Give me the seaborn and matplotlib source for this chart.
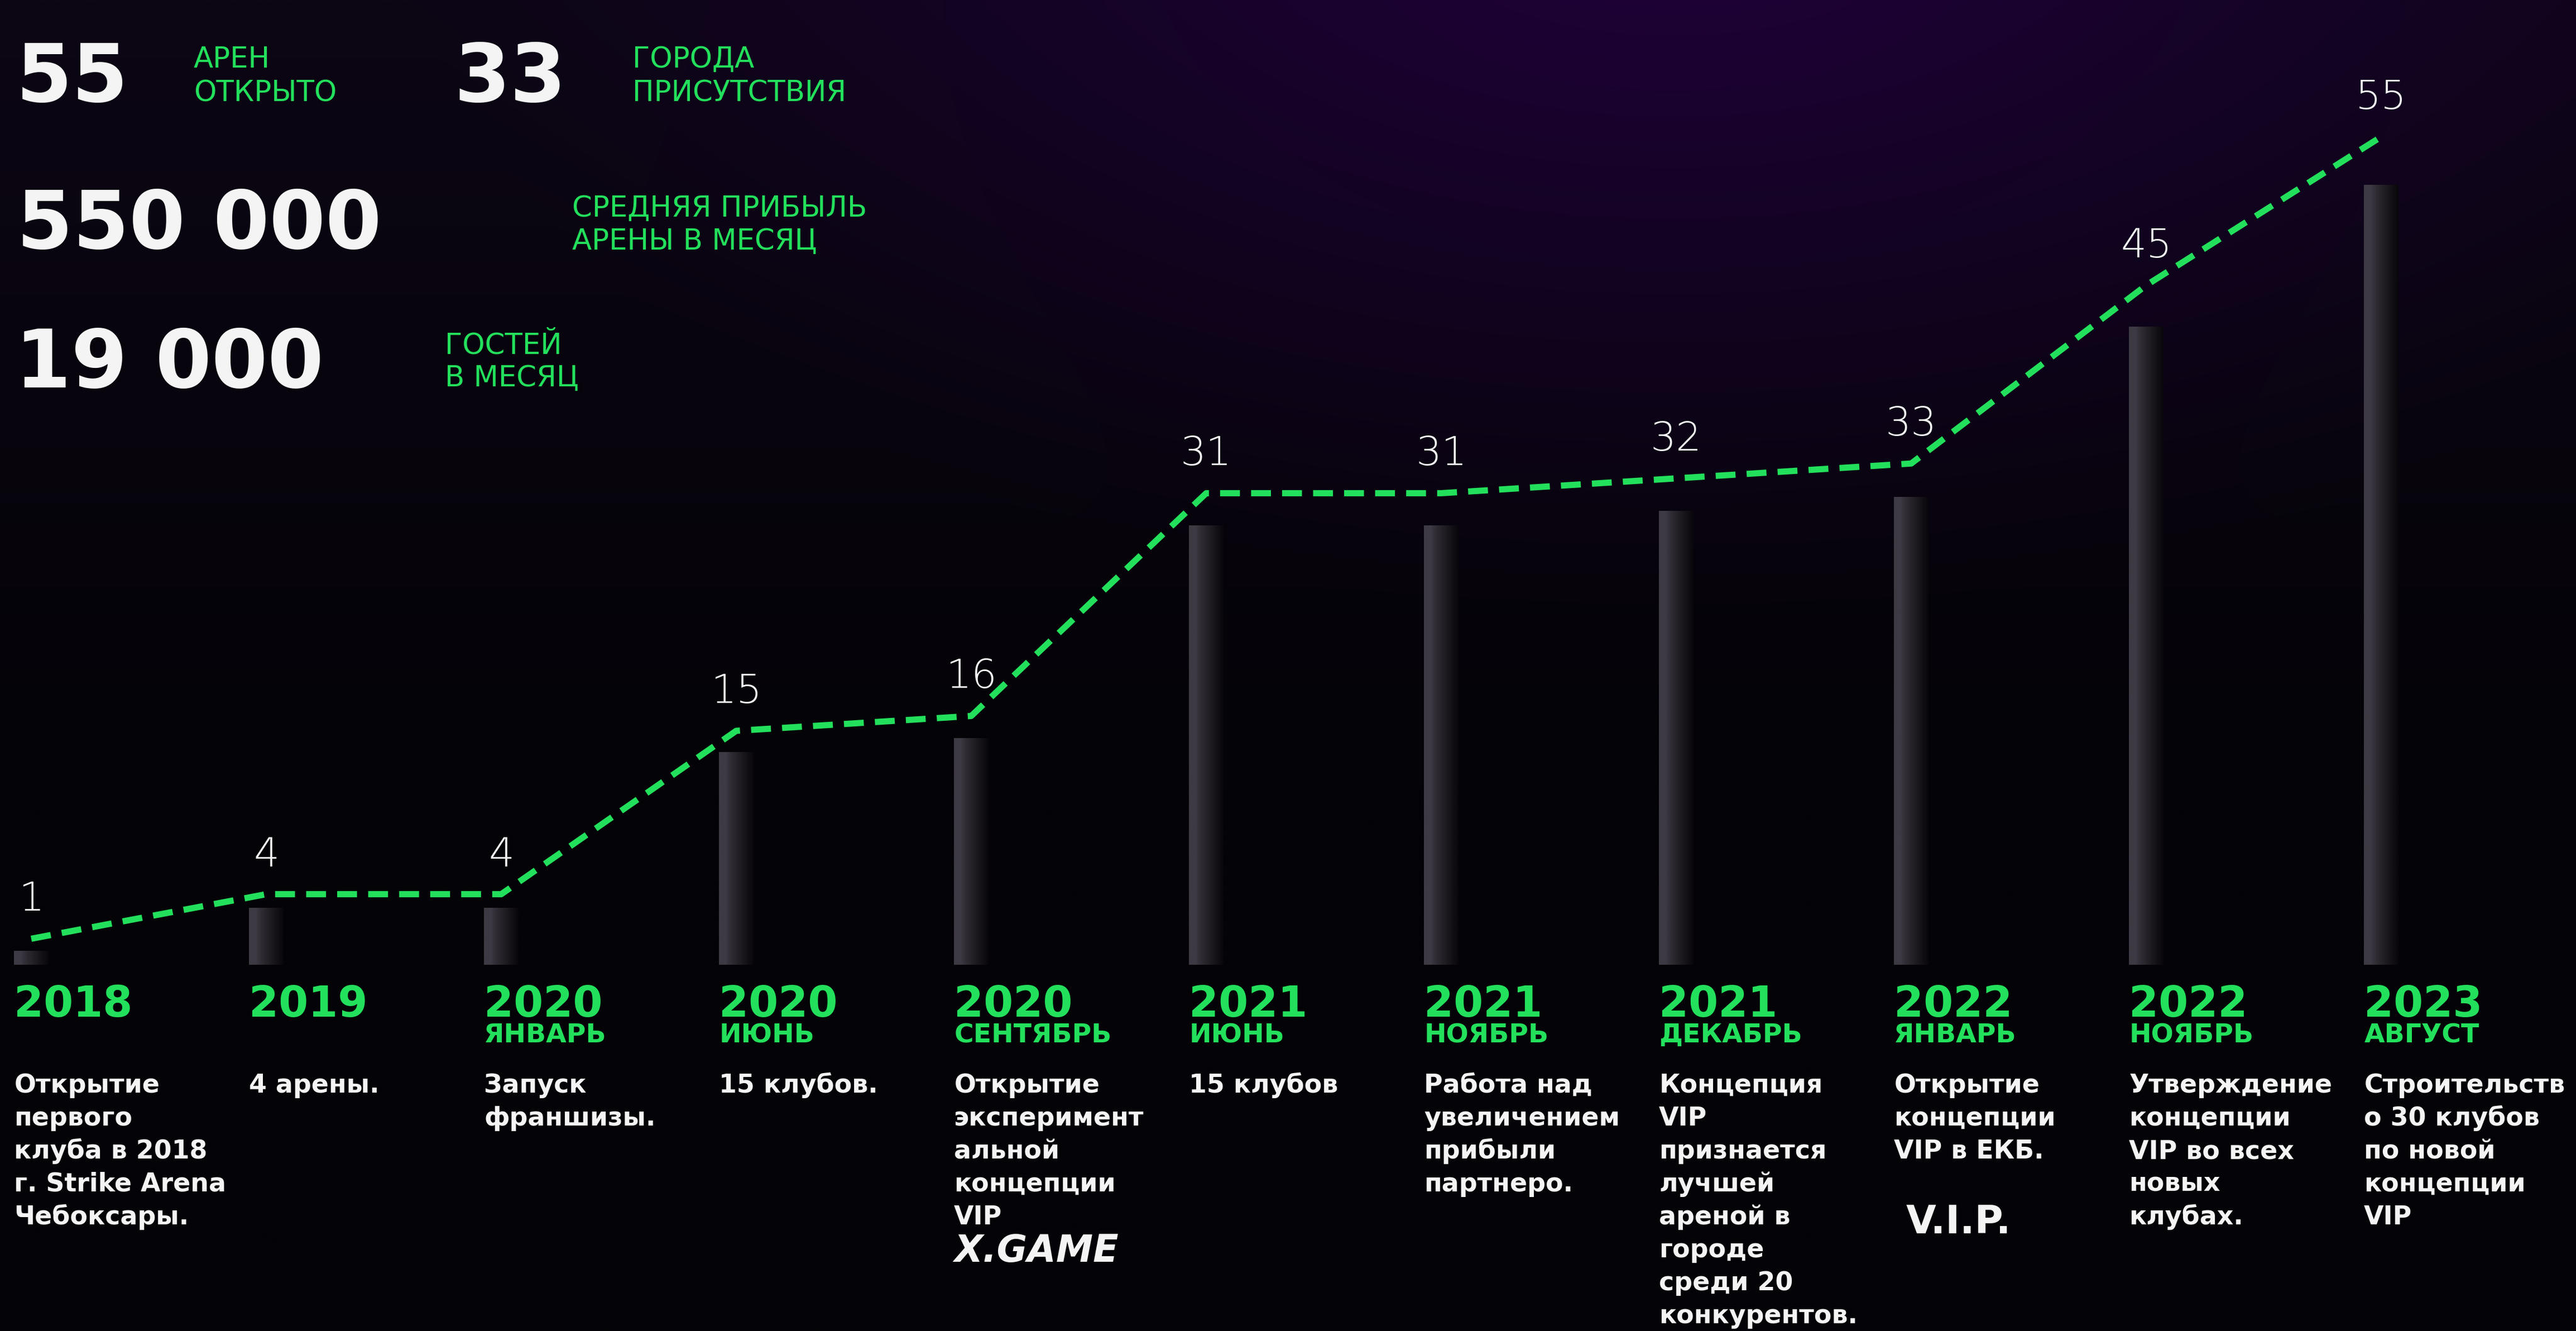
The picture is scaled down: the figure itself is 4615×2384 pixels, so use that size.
import numpy as np
import pandas as pd
import matplotlib.pyplot as plt
import seaborn as sns
from matplotlib.transforms import blended_transform_factory

# --- Данные графика ---
years = ["2018", "2019", "2020", "2020", "2020", "2021", "2021", "2021", "2022", "2022", "2023"]
months = ["", "", "ЯНВАРЬ", "ИЮНЬ", "СЕНТЯБРЬ", "ИЮНЬ", "НОЯБРЬ", "ДЕКАБРЬ", "ЯНВАРЬ", "НОЯБРЬ", "АВГУСТ"]
arenas = [1, 4, 4, 15, 16, 31, 31, 32, 33, 45, 55]
descriptions = [
    "Открытие\nпервого\nклуба в 2018\nг. Strike Arena\nЧебоксары.",
    "4 арены.",
    "Запуск\nфраншизы.",
    "15 клубов.",
    "Открытие\nэксперимент\nальной\nконцепции\nVIP",
    "15 клубов",
    "Работа над\nувеличением\nприбыли\nпартнеро.",
    "Концепция\nVIP\nпризнается\nлучшей\nареной в\nгороде\nсреди 20\nконкурентов.",
    "Открытие\nконцепции\nVIP в ЕКБ.",
    "Утверждение\nконцепции\nVIP во всех\nновых\nклубах.",
    "Строительств\nо 30 клубов\nпо новой\nконцепции\nVIP",
]
extra_marks = {4: "X.GAME", 8: "V.I.P."}

stat_values = ["55", "33", "550 000", "19 000"]
stat_labels = [("АРЕН", "ОТКРЫТО"), ("ГОРОДА", "ПРИСУТСТВИЯ"),
               ("СРЕДНЯЯ ПРИБЫЛЬ", "АРЕНЫ В МЕСЯЦ"), ("ГОСТЕЙ", "В МЕСЯЦ")]

periods = [f"{y} {m}".strip() for y, m in zip(years, months)]
df = pd.DataFrame({"period": periods, "arenas": arenas})

# --- Размеры и цвета ---
W, H = 4615, 2384
BASE = 1728          # линия основания столбцов (px сверху)
STEP = 421           # шаг между столбцами, px
X0 = 56              # центр первого столбца, px
GREEN = "#23e05c"
WHITE = "#f4f4f4"


def fy(py):
    """px сверху -> доля высоты фигуры"""
    return 1 - py / H


sns.set_theme(style="dark")
plt.rcParams["font.family"] = ["DejaVu Sans"]

fig = plt.figure(figsize=(W / 100, H / 100), dpi=100)
fig.patch.set_facecolor("#040307")

# Фон: фиолетовое свечение сверху
bg = fig.add_axes([0, 0, 1, 1])
gx, gy = np.meshgrid(np.linspace(0, W, 460), np.linspace(0, H, 240))
r = np.sqrt(((gx - 3000) / 2300) ** 2 + ((gy + 250) / 1350) ** 2)
t = np.clip(1 - r, 0, 1) ** 1.2
v = np.clip(1 - gy / 1400, 0, 1)[..., None]
base = np.array([4, 3, 7]) / 255 + v * (np.array([8, 3, 14]) / 255)
purple = np.array([34, 0, 62]) / 255
img = base * (1 - t[..., None]) + purple * t[..., None]
bg.imshow(img, extent=[0, 1, 0, 1], aspect="auto", origin="upper", interpolation="bilinear")
bg.set_axis_off()

# Основная ось со столбцами
ax = fig.add_axes([0, fy(BASE), 1, BASE / H])
ax.patch.set_alpha(0)
sns.barplot(data=df, x="period", y="arenas", ax=ax, color="#2c292f",
            width=0.145, saturation=1, linewidth=0)

# Градиент внутри столбцов (светлый край слева)
tt = np.linspace(0, 1, 64)
s = np.clip((tt - 0.2) / 0.8, 0, 1) ** 0.8
light = np.array([62, 58, 68]) / 255
dark = np.array([9, 7, 11]) / 255
bar_img = (light * (1 - s[:, None]) + dark * s[:, None])[None, :, :]
for patch in list(ax.patches):
    x0, y0 = patch.get_x(), patch.get_y()
    w, h = patch.get_width(), patch.get_height()
    im = ax.imshow(bar_img, extent=[x0, x0 + w, y0, y0 + h], aspect="auto",
                   zorder=patch.get_zorder() + 0.1)
    im.set_clip_path(patch)

ax.set_xlim(-X0 / STEP, (W - X0) / STEP)
ax.set_ylim(0, BASE / 25.4)
ax.set_axis_off()

# Пунктирная линия роста на второй оси
ax2 = ax.twinx()
ax2.patch.set_alpha(0)
sns.lineplot(data=df, x="period", y="arenas", ax=ax2, color=GREEN, linewidth=8,
             sort=False, linestyle=(0, (3.2, 1.8)), dash_capstyle="butt")
ax2.set_ylim(-20 / 26.6, (BASE - 20) / 26.6)
ax2.set_xlim(-X0 / STEP, (W - X0) / STEP)
ax2.set_axis_off()

for i, val in enumerate(arenas):
    ax2.annotate(str(val), (i, val), xytext=(0, 36), textcoords="offset points",
                 ha="center", va="baseline", color=WHITE, fontsize=52, fontweight="light")

# Подписи под столбцами
trans = blended_transform_factory(ax.transData, fig.transFigure)
half = 0.073
for i in range(len(years)):
    left = i - half
    ax.text(left, fy(1821), years[i], transform=trans, color=GREEN,
            fontsize=55, fontweight="bold", ha="left", va="baseline")
    if months[i]:
        ax.text(left, fy(1867), months[i], transform=trans, color=GREEN,
                fontsize=34, fontweight="bold", ha="left", va="baseline")
    for j, line in enumerate(descriptions[i].split("\n")):
        ax.text(left, fy(1957 + j * 59), line, transform=trans, color=WHITE,
                fontsize=33, fontweight="bold", ha="left", va="baseline")
    if i in extra_marks:
        n = len(descriptions[i].split("\n"))
        if i == 4:
            ax.text(left, fy(1957 + n * 59 + 8), extra_marks[i], transform=trans,
                    color=WHITE, fontsize=48, fontweight="bold", fontstyle="italic",
                    ha="left", va="baseline")
        else:
            ax.text(left + 0.05, fy(1957 + n * 59 + 75), extra_marks[i], transform=trans,
                    color=WHITE, fontsize=50, fontweight="bold", ha="left", va="baseline")

# Ключевые показатели в левом верхнем углу
stat_pos = [(29, 182, 347, 121, 182), (813, 182, 1133, 121, 182),
            (30, 445, 1025, 388, 447), (27, 694, 797, 634, 692)]
for val, (l1, l2), (nx, ny, lx, ly1, ly2) in zip(stat_values, stat_labels, stat_pos):
    fig.text(nx / W, fy(ny), val, color=WHITE, fontsize=104, fontweight="bold",
             ha="left", va="baseline")
    fig.text(lx / W, fy(ly1), l1, color=GREEN, fontsize=37, ha="left", va="baseline")
    fig.text(lx / W, fy(ly2), l2, color=GREEN, fontsize=37, ha="left", va="baseline")

fig.savefig("out.png", dpi=100, facecolor=fig.get_facecolor())
